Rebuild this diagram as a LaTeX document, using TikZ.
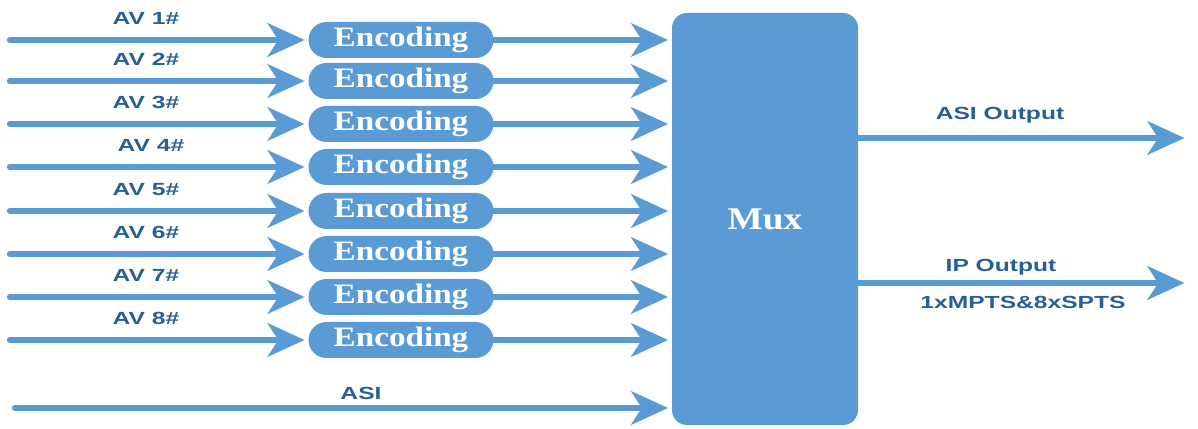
\documentclass[tikz,border=0pt]{standalone}
\usepackage{fontspec}
\newfontfamily\labelfont[FakeStretch=1.4,BoldFont={Liberation Sans Bold}]{Liberation Sans}
\newfontfamily\boxfont[FakeStretch=1.18,BoldFont={Liberation Serif Bold}]{Liberation Serif}
\usetikzlibrary{arrows.meta}
\definecolor{r91g155b213}{rgb}{0.357000,0.608000,0.835000}%
\definecolor{r40g95g150}{rgb}{0.157000,0.373000,0.588000}%
\begin{document}
\begin{tikzpicture}[
  flow/.style={line width=3.6pt, color=r91g155b213, line cap=round,
    -{Stealth[length=21pt,width=19pt,inset=6pt]}, shorten >=2pt},
  encbox/.style={fill=r91g155b213, rounded corners=0.36cm, minimum width=3.7cm,
    minimum height=0.72cm, inner sep=0pt, text=white,
    font=\boxfont\bfseries\fontsize{16}{18}\selectfont},
  muxbox/.style={fill=r91g155b213, rounded corners=0.3cm, minimum width=3.72cm,
    minimum height=8.24cm, inner sep=0pt, text=white,
    font=\boxfont\bfseries\fontsize{18}{20}\selectfont},
  sig/.style={text=r40g95g150, inner sep=0pt,
    font=\labelfont\bfseries\fontsize{10}{12}\selectfont}]
% \clip (0,0) rectangle (23.960000,8.580000);
\useasboundingbox (0,0) rectangle (23.960000,8.580000);

% Drawing encoders and mux
\node[encbox] (enc1) at (8.020000,7.780000) {Encoding};%
\node[encbox] (enc2) at (8.020000,6.960000) {Encoding};%
\node[encbox] (enc3) at (8.020000,6.100000) {Encoding};%
\node[encbox] (enc4) at (8.020000,5.240000) {Encoding};%
\node[encbox] (enc5) at (8.020000,4.360000) {Encoding};%
\node[encbox] (enc6) at (8.020000,3.500000) {Encoding};%
\node[encbox] (enc7) at (8.020000,2.640000) {Encoding};%
\node[encbox] (enc8) at (8.020000,1.780000) {Encoding};%
\node[muxbox] (mux) at (15.300000,4.200000) {Mux};%

% Drawing input labels
\node[sig] (av1) at (2.920000,8.210000) {AV 1\#};%
\node[sig] (av2) at (2.920000,7.390000) {AV 2\#};%
\node[sig] (av3) at (2.920000,6.530000) {AV 3\#};%
\node[sig] (av4) at (3.020000,5.670000) {AV 4\#};%
\node[sig] (av5) at (2.920000,4.790000) {AV 5\#};%
\node[sig] (av6) at (2.920000,3.930000) {AV 6\#};%
\node[sig] (av7) at (2.920000,3.070000) {AV 7\#};%
\node[sig] (av8) at (2.920000,2.210000) {AV 8\#};%
\node[sig] (asi) at (7.220000,0.720000) {ASI};%

% Drawing output labels
\node[sig] (asiouttext) at (20.000000,6.280000) {ASI Output};%
\node[sig] (ipouttext) at (20.020000,3.240000) {IP Output};%
\node[sig] (tsouttext) at (20.460000,2.530000) {1xMPTS\&8xSPTS};%

% Drawing input arrows
\coordinate (in1) at (0.200000,7.780000);%
\coordinate (in2) at (0.200000,6.960000);%
\coordinate (in3) at (0.200000,6.100000);%
\coordinate (in4) at (0.200000,5.240000);%
\coordinate (in5) at (0.200000,4.360000);%
\coordinate (in6) at (0.200000,3.500000);%
\coordinate (in7) at (0.200000,2.640000);%
\coordinate (in8) at (0.200000,1.780000);%
\coordinate (inasi) at (0.300000,0.420000);%
\draw[flow] (in1) -- (enc1);%
\draw[flow] (in2) -- (enc2);%
\draw[flow] (in3) -- (enc3);%
\draw[flow] (in4) -- (enc4);%
\draw[flow] (in5) -- (enc5);%
\draw[flow] (in6) -- (enc6);%
\draw[flow] (in7) -- (enc7);%
\draw[flow] (in8) -- (enc8);%
\draw[flow] (inasi) -- (inasi -| mux.west);%

% Drawing encoder to mux arrows
\draw[flow] (enc1) -- (enc1 -| mux.west);%
\draw[flow] (enc2) -- (enc2 -| mux.west);%
\draw[flow] (enc3) -- (enc3 -| mux.west);%
\draw[flow] (enc4) -- (enc4 -| mux.west);%
\draw[flow] (enc5) -- (enc5 -| mux.west);%
\draw[flow] (enc6) -- (enc6 -| mux.west);%
\draw[flow] (enc7) -- (enc7 -| mux.west);%
\draw[flow] (enc8) -- (enc8 -| mux.west);%

% Drawing output arrows
\coordinate (asiout) at (23.760000,5.820000);%
\coordinate (ipout) at (23.760000,2.920000);%
\draw[flow] (mux.east |- asiout) -- (asiout);%
\draw[flow] (mux.east |- ipout) -- (ipout);%
\end{tikzpicture}
\end{document}
